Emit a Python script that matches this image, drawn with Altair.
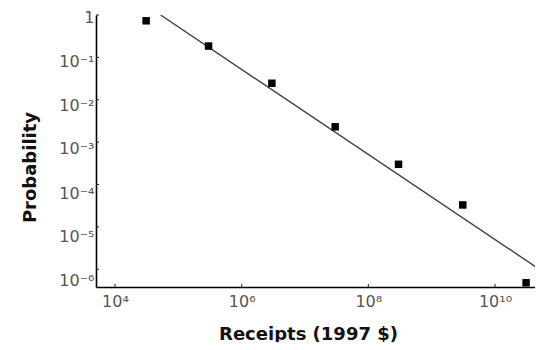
import json
import altair as alt
import pandas as pd

# data
receipts = [3.1e4, 3.0e5, 3.0e6, 3.0e7, 3.0e8, 3.1e9, 3.1e10]
probability = [0.73, 0.185, 0.0245, 0.0023, 3.0e-4, 3.3e-5, 4.8e-7]

fit_x = [5.25e4, 4.79e10]
fit_y = [1.0, 1.05e-6]

x_ticks = [1e4, 1e6, 1e8, 1e10]
x_tick_labels = ["10⁴", "10⁶", "10⁸", "10¹⁰"]
y_ticks = [1, 1e-1, 1e-2, 1e-3, 1e-4, 1e-5, 1e-6]
y_tick_labels = ["1", "10⁻¹", "10⁻²", "10⁻³", "10⁻⁴", "10⁻⁵", "10⁻⁶"]

# style
W, H = 439, 272
FONT = "DejaVu Sans"
y_label_shift = [2, 4, 6, 6, 9, 10, 11]

pts = pd.DataFrame({"r": receipts, "p": probability})
fit = pd.DataFrame({"r": fit_x, "p": fit_y})
xt = pd.DataFrame({"r": x_ticks})
yt = pd.DataFrame({"p": y_ticks})

xscale = alt.Scale(type="log", domain=[10 ** 3.7, 10 ** 10.632], nice=False)
yscale = alt.Scale(type="log", domain=[10 ** -6.418, 1.0], nice=False)

x_expr = "[" + ",".join(json.dumps(s, ensure_ascii=False) for s in x_tick_labels) + "][round((log(datum.value)/LN10 - 4)/2)]"
y_expr = "[" + ",".join(json.dumps(s, ensure_ascii=False) for s in y_tick_labels) + "][round(-log(datum.value)/LN10)]"

y_offset_cond = {
    "condition": [
        {"test": f"abs(log(datum.value)/LN10 + {i}) < 0.1", "value": s}
        for i, s in enumerate(y_label_shift)
    ],
    "value": 0,
}

xaxis = alt.Axis(
    values=x_ticks, labelExpr=x_expr, ticks=False, grid=False,
    domainColor="black", domainWidth=1.6,
    labelFont=FONT, labelFontSize=16, labelColor="#555", labelPadding=6,
    title="Receipts (1997 $)", titleFont=FONT, titleFontSize=18, titleFontWeight="bold",
    titleColor="#111", titleX=212, titleY=52, titleBaseline="alphabetic",
)
yaxis = alt.Axis(
    values=y_ticks, labelExpr=y_expr, ticks=False, grid=False,
    domainColor="black", domainWidth=1.6,
    labelFont=FONT, labelFontSize=16, labelColor="#555", labelPadding=2,
    labelOffset=y_offset_cond,
    title="Probability", titleFont=FONT, titleFontSize=18, titleFontWeight="bold",
    titleColor="#111", titleX=-57, titleY=152, titleBaseline="bottom",
)

line = alt.Chart(fit).mark_line(color="#444", strokeWidth=1.4, clip=True).encode(
    x=alt.X("r:Q", scale=xscale, axis=xaxis),
    y=alt.Y("p:Q", scale=yscale, axis=yaxis),
)
points = alt.Chart(pts).mark_square(color="black", size=56, opacity=1).encode(
    x=alt.X("r:Q", scale=xscale),
    y=alt.Y("p:Q", scale=yscale),
)
xticks = alt.Chart(xt).mark_rule(color="#222", strokeWidth=1).encode(
    x=alt.X("r:Q", scale=xscale),
    y=alt.value(H),
    y2=alt.value(H - 3),
)
yticks = alt.Chart(yt).mark_rule(color="#222", strokeWidth=1).encode(
    y=alt.Y("p:Q", scale=yscale),
    x=alt.value(0),
    x2=alt.value(3),
)

chart = alt.layer(line, points, xticks, yticks).properties(
    width=W, height=H,
    autosize=alt.AutoSizeParams(type="none"),
    padding={"left": 88, "top": 7, "right": 0, "bottom": 55},
).configure(background="white").configure_view(stroke=None)

chart.save("out.html", embed_options={"renderer": "svg", "actions": False})
